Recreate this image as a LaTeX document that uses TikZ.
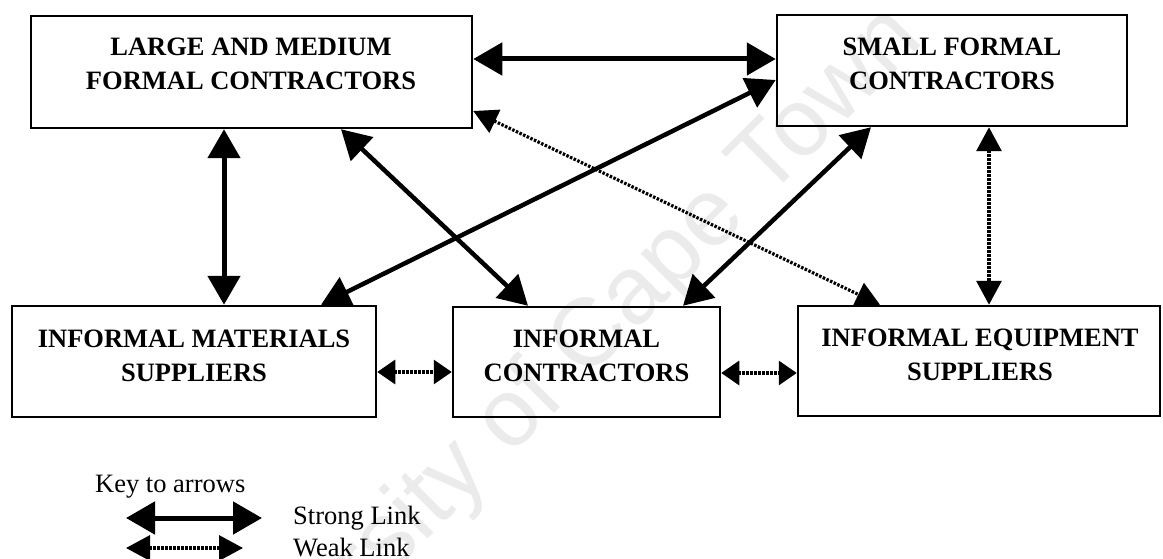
\documentclass[tikz,border=0pt]{standalone}
\usepackage{fontspec}
\setmainfont{Liberation Serif}
\newfontfamily\wmfont{Liberation Sans}
\usetikzlibrary{arrows.meta}

\begin{document}
\begin{tikzpicture}[x=1pt,y=-1pt,
  box/.style={draw, line width=2.5pt, inner sep=0pt},
  boxtext/.style={font=\fontsize{26.5}{34}\selectfont\bfseries, align=center, inner sep=0pt},
  keytext/.style={font=\fontsize{26.5}{30}\selectfont, anchor=west, inner sep=0pt},
  strong/.style={line width=5pt, {Triangle[length=29pt,width=32pt]}-{Triangle[length=29pt,width=32pt]}},
  thinstrong/.style={strong, line width=4.5pt},
  weak/.style={line width=3.2pt, dash pattern=on 2.5pt off 1.5pt,
    {Triangle[length=24pt,width=25pt]}-{Triangle[length=24pt,width=25pt]}},
  shortweak/.style={weak, {Triangle[length=18pt,width=24pt]}-{Triangle[length=18pt,width=24pt]}},
]
% page frame
\clip (0,0) rectangle (1163,559);
\fill[white] (0,0) rectangle (1163,559);

% faint repository watermark
\node[rotate=45, text=black!8, inner sep=0pt,
      font=\wmfont\fontsize{96}{96}\selectfont] (wm) at (542,390) {University of Cape Town};

% actors
\node[box, minimum width=441pt, minimum height=112pt] (L) at (251.5,72) {};
\node[box, minimum width=350pt, minimum height=111pt] (S) at (952,70.5) {};
\node[box, minimum width=364pt, minimum height=111pt] (M) at (194,361.5) {};
\node[box, minimum width=267pt, minimum height=110pt] (C) at (586.5,362) {};
\node[box, minimum width=362pt, minimum height=110pt] (E) at (979,361) {};

\node[boxtext] (Lt) at (251,64) {LARGE AND MEDIUM\\FORMAL CONTRACTORS};
\node[boxtext] (St) at (952,64) {SMALL FORMAL\\CONTRACTORS};
\node[boxtext] (Mt) at (194,356) {INFORMAL MATERIALS\\SUPPLIERS};
\node[boxtext] (Ct) at (586.5,356) {INFORMAL\\CONTRACTORS};
\node[boxtext] (Et) at (980,355) {INFORMAL EQUIPMENT\\SUPPLIERS};

% strong links
\draw[strong] ([yshift=13pt]L.east) -- ([yshift=11.5pt]S.west);
\draw[strong] ([xshift=-27.5pt]L.south) -- ([xshift=30pt]M.north);
\draw[thinstrong] ([xshift=89.5pt]L.south) -- ([xshift=-58.5pt]C.north);
\draw[thinstrong] ([yshift=-9.5pt]S.west) -- ([xshift=127pt]M.north);
\draw[thinstrong] ([xshift=-81pt]S.south) -- ([xshift=96.5pt]C.north);

% weak links
\draw[weak] ([yshift=-39pt]L.east) -- ([xshift=-99pt]E.north);
\draw[weak] ([xshift=37pt]S.south) -- ([xshift=10pt]E.north);
\draw[shortweak] ([yshift=-10.5pt]M.east) -- ([yshift=-10pt]C.west);
\draw[shortweak] ([yshift=-11pt]C.east) -- ([yshift=-12pt]E.west);

% key
\node[keytext] (key) at (95,487) {Key to arrows};
\coordinate (ks1) at (126,518);
\coordinate (ks2) at (262,518);
\coordinate (kw1) at (126,548);
\coordinate (kw2) at (243,548);
\draw[strong] (ks1) -- (ks2);
\draw[weak] (kw1) -- (kw2);
\node[keytext] (kst) at (293,518) {Strong Link};
\node[keytext] (kwt) at (293,548) {Weak Link};
\end{tikzpicture}
\end{document}
